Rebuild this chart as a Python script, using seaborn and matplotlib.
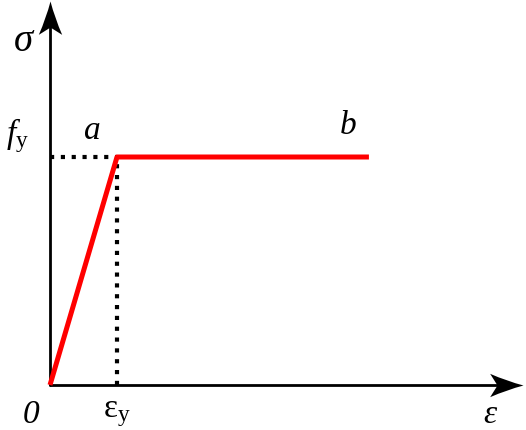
import matplotlib
matplotlib.use("Agg")
import matplotlib.pyplot as plt
import seaborn as sns
import pandas as pd
from matplotlib.path import Path
from matplotlib.transforms import Affine2D

# Data (normalised strain / stress)
strain = [0.0, 1.0, 4.76]
stress = [0.0, 1.0, 1.0]
eps_y = 1.0
f_y = 1.0

sns.set_theme(style="white")
plt.rcParams['font.family'] = ['Liberation Serif', 'DejaVu Serif']
plt.rcParams['mathtext.fontset'] = 'custom'
plt.rcParams['mathtext.rm'] = 'Liberation Serif'
plt.rcParams['mathtext.it'] = 'Liberation Serif:italic'
plt.rcParams['text.color'] = 'black'

fig = plt.figure(figsize=(5.26, 4.31), dpi=100)
ax = fig.add_axes([0, 0, 1, 1])
ax.set_xlim(-50 / 67, 476 / 67)
ax.set_ylim(-45 / 228, 386 / 228)
ax.axis('off')

df = pd.DataFrame({'strain': strain, 'stress': stress})
sns.lineplot(data=df, x='strain', y='stress', color='#ff0000', linewidth=3.6,
             ax=ax, sort=False, zorder=3)
for ln in ax.lines:
    ln.set_solid_capstyle('butt')

# dotted guides
ax.plot([0, eps_y], [f_y, f_y], color='black', linestyle=(0, (1, 1.6)), linewidth=3, zorder=2)
ax.plot([eps_y, eps_y], [0, f_y], color='black', linestyle=(0, (1, 1.6)), linewidth=3, zorder=2)

# axes lines
x_end, y_end = 7.06, 1.685
ax.plot([0, x_end - 0.2], [0, 0], color='black', lw=2.0, zorder=1)
ax.plot([0, 0], [0, y_end - 0.06], color='black', lw=2.0, zorder=1)

# stealth-style arrow head marker (tip at origin, pointing up)
verts = [(0, 0), (0.13, -0.5), (0.35, -1.0), (0, -0.78), (-0.35, -1.0), (-0.13, -0.5), (0, 0), (0, 0)]
codes = [Path.MOVETO, Path.CURVE3, Path.CURVE3, Path.LINETO, Path.LINETO, Path.CURVE3, Path.CURVE3, Path.CLOSEPOLY]
head_up = Path(verts, codes)
head_right = head_up.transformed(Affine2D().rotate_deg(-90))
ax.plot([0], [y_end], marker=head_up, markersize=48, color='black', markeredgewidth=0, zorder=4)
ax.plot([x_end], [0], marker=head_right, markersize=48, color='black', markeredgewidth=0, zorder=4)

# labels
ax.text(-0.4, 1.51, 'σ', fontsize=28, style='italic', ha='center', va='center')
ax.text(-0.48, 1.1, r'$f_{\mathrm{y}}$', fontsize=24, ha='center', va='center')
ax.text(0.63, 1.12, 'a', fontsize=24, style='italic', ha='center', va='center')
ax.text(4.45, 1.14, 'b', fontsize=24, style='italic', ha='center', va='center')
ax.text(-0.28, -0.125, '0', fontsize=24, style='italic', ha='center', va='center')
ax.text(1.0, -0.12, r'$\mathrm{\varepsilon}_{\mathrm{y}}$', fontsize=24, ha='center', va='center')
ax.text(6.57, -0.125, r'$\varepsilon$', fontsize=24, ha='center', va='center')

fig.savefig('out.png', dpi=100)
